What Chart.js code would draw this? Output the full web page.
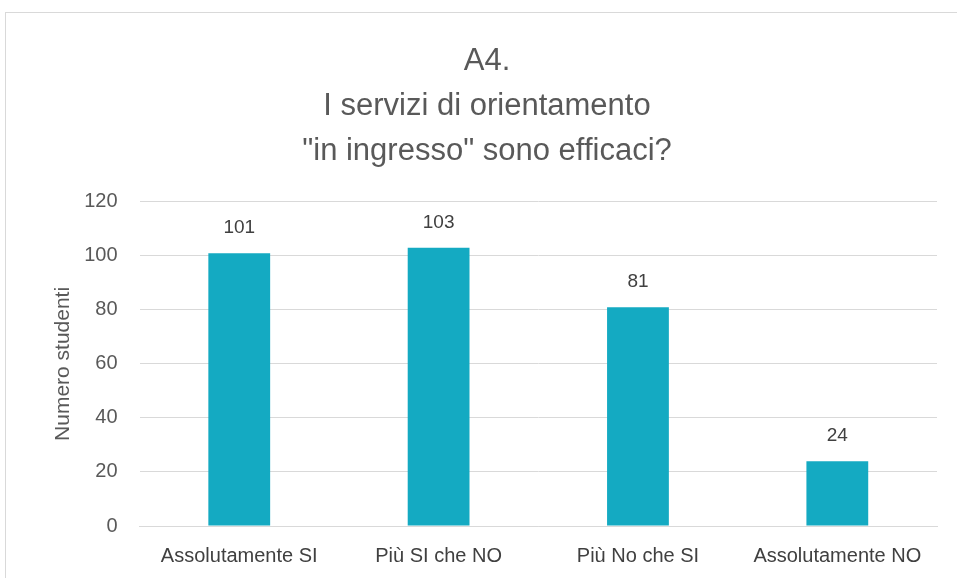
<!DOCTYPE html>
<html>
<head>
<meta charset="utf-8">
<script src="https://cdn.jsdelivr.net/npm/chart.js@4/dist/chart.umd.min.js"></script>
<style>
  body { margin: 0; background: #fff; }
  #box { position: absolute; left: 5px; top: 12px; width: 960px; height: 580px; border: 1px solid #d9d9d9; box-sizing: border-box; }
</style>
</head>
<body>
<div id="box"><canvas id="chart"></canvas></div>
<script>
// dati del grafico A4
let categorie = ["Assolutamente SI", "Più SI che NO", "Più No che SI", "Assolutamente NO"];
let studenti = [101, 103, 81, 24];
let titolo = ["A4.", "I servizi di orientamento", "\"in ingresso\" sono efficaci?"];
let yTicks = [0, 20, 40, 60, 80, 100, 120];

// etichette sopra le barre
const valoriSopra = {
  id: "valoriSopra",
  afterDatasetsDraw(chart) {
    const ctx = chart.ctx;
    ctx.save();
    ctx.font = "19px 'Liberation Sans', Arial, sans-serif";
    ctx.fillStyle = "#404040";
    ctx.textAlign = "center";
    ctx.textBaseline = "bottom";
    chart.getDatasetMeta(0).data.forEach((bar, i) => {
      ctx.fillText(studenti[i], bar.x, bar.y - 16);
    });
    ctx.restore();
  }
};

new Chart(document.getElementById("chart"), {
  type: "bar",
  data: {
    labels: categorie,
    datasets: [
      {
        data: studenti,
        backgroundColor: "#14aac2",
        borderWidth: 0,
        barPercentage: 0.31,
        categoryPercentage: 1,
      },
    ],
  },
  options: {
    responsive: true,
    maintainAspectRatio: false,
    animation: false,
    layout: { padding: { left: 31, right: 27, top: 26, bottom: 13 } },
    plugins: {
      legend: { display: false },
      tooltip: { enabled: false },
      title: {
        display: true,
        text: titolo,
        color: "#595959",
        font: { family: "'Liberation Sans', sans-serif", size: 31, weight: "normal", lineHeight: 1.45 },
        padding: { top: 0, bottom: 28 },
      },
    },
    scales: {
      x: {
        grid: { display: false },
        border: { color: "#d9d9d9" },
        ticks: {
          color: "#404040",
          padding: 10,
          font: { family: "'Liberation Sans', sans-serif", size: 20 },
        },
      },
      y: {
        min: 0,
        max: 120,
        afterBuildTicks: (axis) => { axis.ticks = yTicks.map((v) => ({ value: v })); },
        grid: { color: "#d9d9d9", drawTicks: false },
        border: { display: false },
        ticks: {
          color: "#595959",
          padding: 22,
          font: { family: "'Liberation Sans', Arial, sans-serif", size: 20 },
        },
        title: {
          display: true,
          text: "Numero studenti",
          color: "#595959",
          padding: { top: 14, bottom: -14 },
          font: { family: "'Liberation Sans', Arial, sans-serif", size: 21 },
        },
      },
    },
  },
  plugins: [valoriSopra],
});
</script>
</body>
</html>
